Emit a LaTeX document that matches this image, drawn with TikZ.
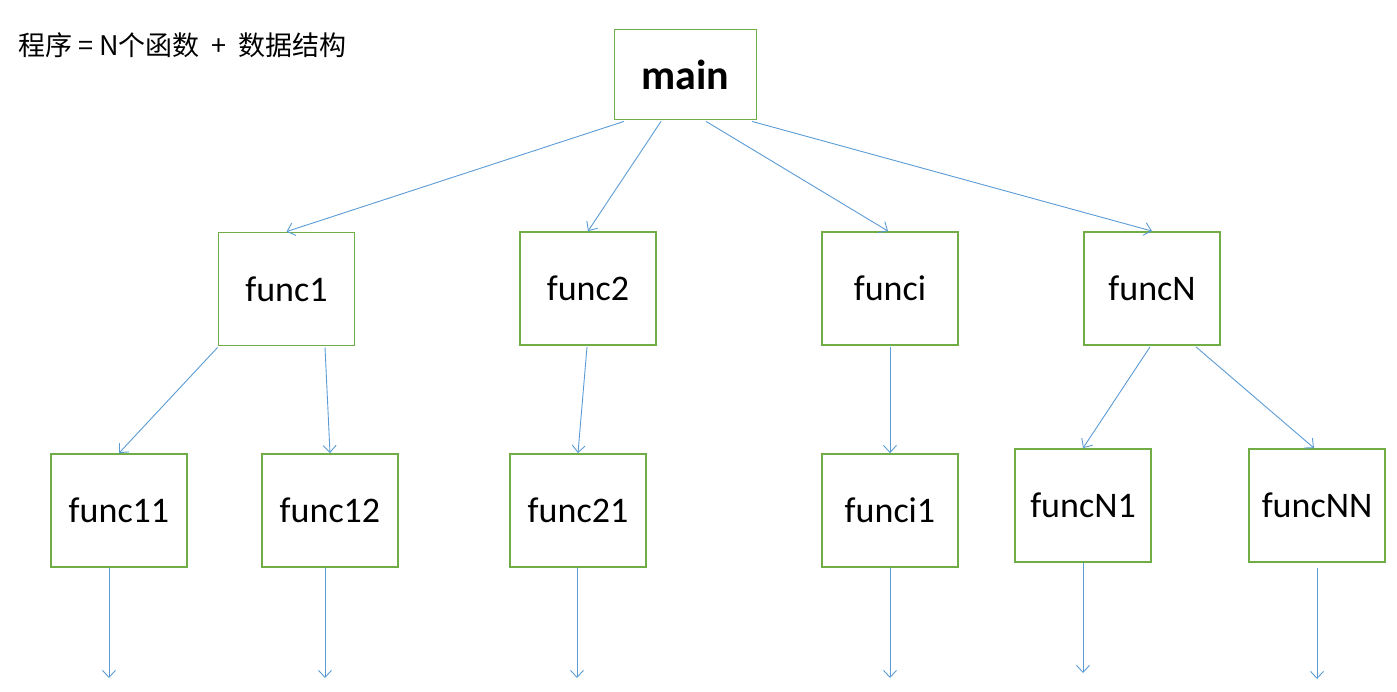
\documentclass[tikz,border=0pt]{standalone}
\usepackage{fontspec}
\setmainfont{Carlito}
\newfontfamily\cjkfont{Noto Sans CJK SC}
\usetikzlibrary{arrows.meta}
\definecolor{boxgreen}{HTML}{70AD47}
\definecolor{arrblue}{HTML}{5B9BD5}
\begin{document}
\begin{tikzpicture}[x=1pt,y=-1pt,
  fbox/.style={draw=boxgreen,line width=1.8pt,fill=white,minimum width=136pt,minimum height=113pt,inner sep=0pt,font=\fontsize{36}{40}\selectfont},
  conn/.style={draw=arrblue,line width=0.9pt,-{Straight Barb[length=7pt,width=13pt,line width=0.9pt]}}]
\useasboundingbox (0,0) rectangle (1397,692);
\node[anchor=west,inner sep=0pt,font=\cjkfont\fontsize{27}{32}\selectfont] (title) at (18,45) {程序 = N个函数 \ + \ 数据结构};
\node[fbox,minimum width=142pt,minimum height=90pt,font=\bfseries\fontsize{42}{46}\selectfont] (main) at (685.5,74.5) {main};
\node[fbox] (func1) at (286.5,289) {func1};
\node[fbox] (func2) at (588,288.5) {func2};
\node[fbox] (funci) at (890,288.5) {funci};
\node[fbox] (funcN) at (1152,288.5) {funcN};
\node[fbox] (func11) at (119,510.5) {func11};
\node[fbox] (func12) at (330,510.5) {func12};
\node[fbox] (func21) at (578,510.5) {func21};
\node[fbox] (funci1) at (890,510.5) {funci1};
\node[fbox] (funcN1) at (1083,505.5) {funcN1};
\node[fbox] (funcNN) at (1317,505.5) {funcNN};
\coordinate (e11) at (109,678);
\coordinate (e12) at (325,678);
\coordinate (e21) at (577,678);
\coordinate (ei1) at (890,678);
\coordinate (eN1) at (1083,673);
\coordinate (eNN) at (1317,679);
\draw[conn] ([xshift=-61.5pt,yshift=-1pt]main.south) -- (func1.north);
\draw[conn] ([xshift=-24.5pt,yshift=-1pt]main.south) -- (func2.north);
\draw[conn] ([xshift=20.5pt,yshift=-1pt]main.south) -- ([xshift=-2pt]funci.north);
\draw[conn] ([xshift=66.5pt,yshift=-1pt]main.south) -- (funcN.north);
\draw[conn] ([yshift=-1pt]func1.south west) -- (func11.north);
\draw[conn] ([xshift=38.5pt,yshift=-1pt]func1.south) -- (func12.north);
\draw[conn] ([xshift=-1pt,yshift=-1pt]func2.south) -- (func21.north);
\draw[conn] ([yshift=-1pt]funci.south) -- (funci1.north);
\draw[conn] ([xshift=-2pt,yshift=-1pt]funcN.south) -- (funcN1.north);
\draw[conn] ([xshift=44pt,yshift=-1pt]funcN.south) -- ([xshift=-3pt]funcNN.north);
\draw[conn] ([xshift=-10pt]func11.south) -- (e11);
\draw[conn] ([xshift=-5pt]func12.south) -- (e12);
\draw[conn] ([xshift=-1pt]func21.south) -- (e21);
\draw[conn] (funci1.south) -- (ei1);
\draw[conn] (funcN1.south) -- (eN1);
\draw[conn] ([yshift=-5pt]funcNN.south) -- (eNN);
\end{tikzpicture}
\end{document}
